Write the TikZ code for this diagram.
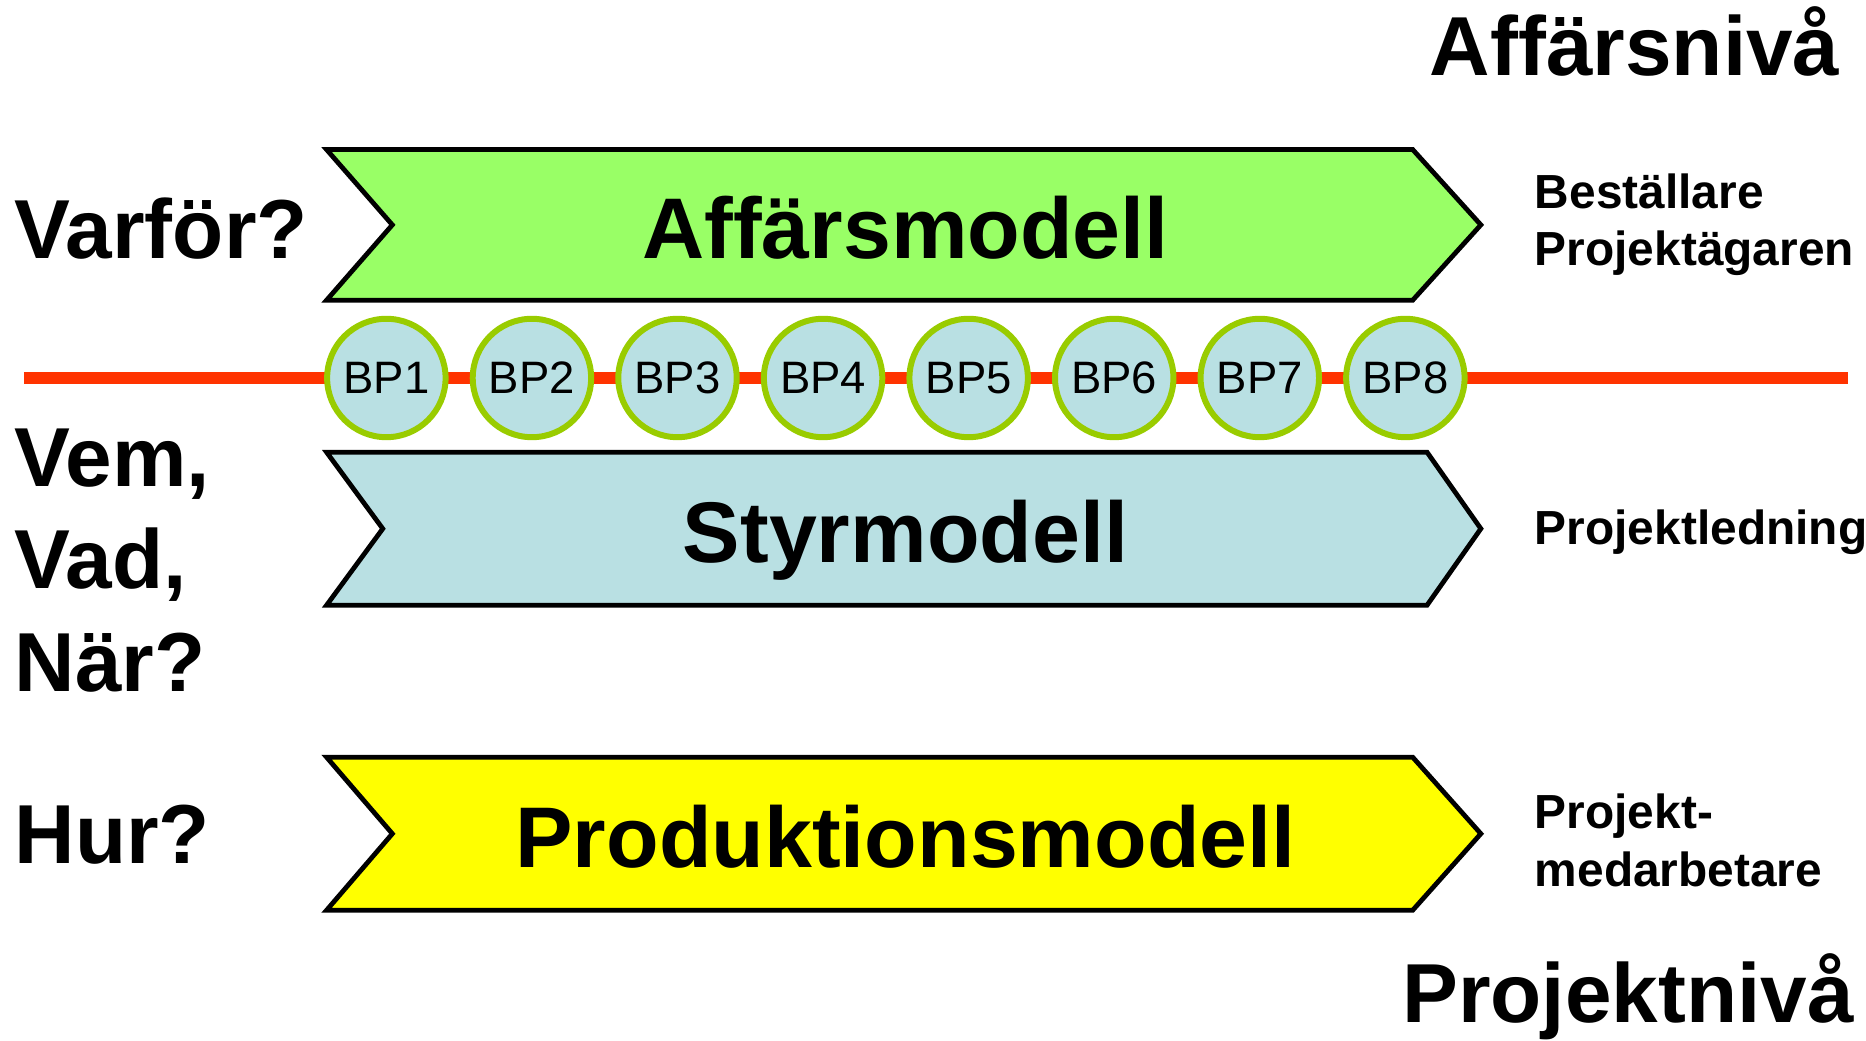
\documentclass[tikz,border=0pt]{standalone}
\usepackage{fontspec}
\setmainfont{Liberation Sans}
\usetikzlibrary{positioning}
\definecolor{affcolor}{RGB}{153,255,102}
\definecolor{styrcolor}{RGB}{185,224,227}
\definecolor{prodcolor}{RGB}{255,255,0}
\definecolor{bpborder}{RGB}{153,204,0}
\definecolor{timecolor}{RGB}{255,51,0}

\tikzset{
  model/.style={draw=black, line width=4pt},
  bigtext/.style={font=\fontsize{70}{84}\selectfont\bfseries, inner sep=0pt},
  modeltext/.style={font=\fontsize{72}{86}\selectfont\bfseries, inner sep=0pt, anchor=base},
  roletext/.style={font=\fontsize{40}{48}\selectfont\bfseries, inner sep=0pt, align=left, anchor=base west},
  bpnode/.style={circle, draw=bpborder, line width=5pt, fill=styrcolor, minimum size=99pt,
    inner sep=0pt, font=\fontsize{38}{45}\selectfont},
}

\begin{document}
\begin{tikzpicture}[x=1pt, y=-1pt]
    \useasboundingbox (0,0) rectangle (1560,869.5);

    % levels
    \node[bigtext, anchor=base east] (affniva) at (1538,63) {Affärsnivå};
    \node[bigtext, anchor=base east] (projniva) at (1550,855) {Projektnivå};

    % questions
    \node[bigtext, anchor=base west] (varfor) at (12,216) {Varför?};
    \node[bigtext, anchor=base west] (vem) at (12,407) {Vem,};
    \node[bigtext, anchor=base west] (vad) at (12,492) {Vad,};
    \node[bigtext, anchor=base west] (nar) at (12,578) {När?};
    \node[bigtext, anchor=base west] (hur) at (12,722) {Hur?};

    % time line
    \coordinate (linestart) at (20,316);
    \coordinate (lineend) at (1545,316);
    \draw[line width=10pt, timecolor] (linestart) -- (lineend);

    % Affärsmodell
    \draw[model, fill=affcolor] (273,125) -- (1181,125) -- (1238,188) -- (1181,251) -- (273,251) -- (328,188) -- cycle;
    \node[modeltext] (affmodell) at (757,216) {Affärsmodell};

    % Styrmodell
    \draw[model, fill=styrcolor] (273,378) -- (1193,378) -- (1238,442) -- (1193,506) -- (273,506) -- (320,442) -- cycle;
    \node[modeltext] (styrmodell) at (757,470) {Styrmodell};

    % Produktionsmodell
    \draw[model, fill=prodcolor] (273,633) -- (1181,633) -- (1238,697) -- (1181,761) -- (273,761) -- (328,697) -- cycle;
    \node[modeltext] (prodmodell) at (757,725) {Produktionsmodell};

    % BP1 - BP8
    \foreach \i in {1,...,8} {
        \node[bpnode] (bp\i) at ({323+121.7*(\i-1)},316) {BP\i};
    }

    % roles
    \node[roletext] (bestallare) at (1283,222) {Beställare\\Projektägaren};
    \node[roletext] (ledning) at (1283,455) {Projektledning};
    \node[roletext] (medarb) at (1283,741) {Projekt-\\medarbetare};
\end{tikzpicture}
\end{document}
